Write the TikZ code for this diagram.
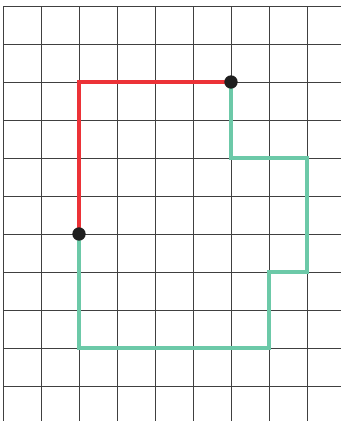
\documentclass[tikz,border=0pt]{standalone}
\usepackage{tikz}
\tikzset{
  griglia/.style = {draw=black!75, line width=0.6pt},
  rosso/.style   = {draw={rgb,255:red,236;green,50;blue,55}, line width=3pt},
  verde/.style   = {draw={rgb,255:red,108;green,201;blue,168}, line width=3pt},
  punto/.style   = {circle, fill=black!88, minimum size=10pt, inner sep=0}
}

\begin{document}
\begin{tikzpicture}

  \useasboundingbox (-0.079,-0.921) rectangle (8.895,10.158);

  \foreach \x in {0,...,8} \draw[griglia] (\x,-0.921)--(\x,10);
  \foreach \y in {0,...,10} \draw[griglia] (0,\y)--(8.895,\y);

  \coordinate (A) at (2,4);
  \coordinate (B) at (6,8);

  \draw[rosso] (A) |- (B);
  \draw[verde] (B)--++(0,-2)--++(2,0)--++(0,-3)--++(-1,0)--++(0,-2)--++(-5,0)--(A);

  \node[punto] (pa) at (A){};
  \node[punto] (pb) at (B){};

\end{tikzpicture}
\end{document}
